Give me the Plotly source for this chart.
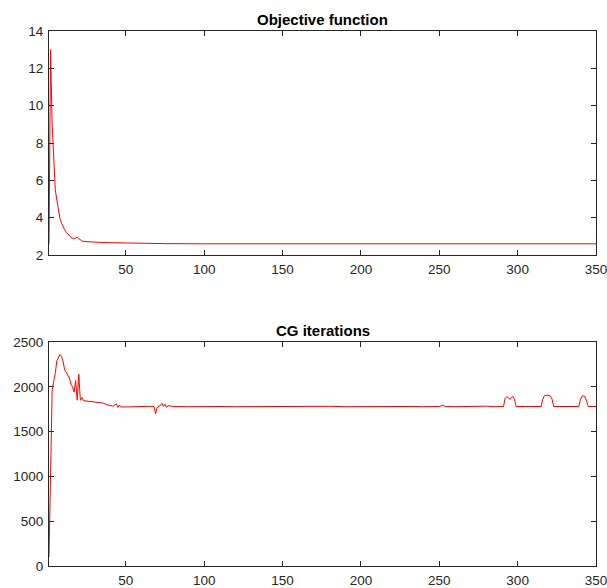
import plotly.graph_objects as go

# ---- Data ----
obj_x = [1, 2, 3, 4, 5, 6, 7, 8, 9, 10, 11, 12, 13, 14, 15, 16, 17, 18, 19, 20,
         21, 22, 24, 27, 32, 40, 45, 50, 60, 75, 100, 150, 200, 250, 300, 350]
obj_y = [2.6, 13.0, 9.0, 6.8, 5.5, 4.95, 4.45, 3.95, 3.7, 3.5, 3.35, 3.22, 3.12, 3.03,
         2.95, 2.89, 2.88, 2.9, 2.95, 2.88, 2.8, 2.75, 2.72, 2.7, 2.68, 2.66, 2.65,
         2.63, 2.62, 2.61, 2.6, 2.6, 2.6, 2.6, 2.6, 2.6]

cg_x = [1, 2, 3, 4, 5, 6, 7, 8, 9, 10, 11, 12, 13, 14, 15, 16, 17, 18, 19, 20,
        21, 22, 23, 25, 30, 35, 40, 42, 44, 45, 46, 47, 50, 55, 60, 65, 68, 69, 70,
        72, 73, 74, 75, 76, 77, 80, 90, 100, 110, 120, 130, 140, 150, 160, 170, 180,
        190, 200, 210, 220, 230, 240, 250, 252, 254, 260, 270, 275, 280, 285, 288,
        291, 292, 293, 294, 295, 296, 297, 298, 299, 305, 315, 316, 317, 318, 320,
        321, 322, 323, 330, 339, 340, 341, 342, 343, 344, 345, 350]
cg_y = [100, 900, 1950, 2060, 2150, 2290, 2330, 2360, 2340, 2280, 2190, 2160, 2130,
        2100, 2030, 2000, 1940, 2070, 1850, 2140, 1850, 1880, 1845, 1840, 1835, 1820,
        1790, 1785, 1810, 1770, 1795, 1775, 1775, 1780, 1778, 1782, 1780, 1700, 1770,
        1790, 1815, 1780, 1805, 1770, 1790, 1780, 1778, 1782, 1780, 1778, 1780, 1776,
        1780, 1778, 1780, 1782, 1778, 1780, 1778, 1776, 1780, 1778, 1780, 1795, 1780,
        1778, 1782, 1776, 1784, 1778, 1780, 1780, 1870, 1890, 1880, 1860, 1880, 1890,
        1860, 1780, 1780, 1780, 1860, 1900, 1905, 1905, 1895, 1860, 1780, 1780, 1780,
        1850, 1895, 1900, 1890, 1840, 1780, 1780]

obj_yticks = [2, 4, 6, 8, 10, 12, 14]
cg_yticks = [0, 500, 1000, 1500, 2000, 2500]
x_ticks = [50, 100, 150, 200, 250, 300, 350]

W, H = 607, 588
L, R = 49, 596
T1, B1 = 31, 255
T2, B2 = 342, 566

AX = "#262626"
FONT = "Liberation Sans"

fig = go.Figure()
fig.add_trace(go.Scatter(x=obj_x, y=obj_y, mode="lines",
                         line=dict(color="#ff0000", width=1), xaxis="x", yaxis="y",
                         showlegend=False, hoverinfo="skip"))
fig.add_trace(go.Scatter(x=cg_x, y=cg_y, mode="lines",
                         line=dict(color="#ff0000", width=1), xaxis="x2", yaxis="y2",
                         showlegend=False, hoverinfo="skip"))

common = dict(showline=True, linecolor=AX, linewidth=1, mirror="ticks",
              ticks="inside", ticklen=5, tickcolor=AX, tickwidth=1,
              showgrid=False, zeroline=False, automargin=False,
              ticklabeloverflow="allow",
              tickfont=dict(family=FONT, size=13.5, color=AX))

xd = [L / W, R / W]
fig.update_layout(
    width=W, height=H, margin=dict(l=0, r=0, t=0, b=0, autoexpand=False),
    paper_bgcolor="white", plot_bgcolor="white",
    xaxis=dict(domain=xd, range=[1, 350], tickvals=x_ticks, anchor="y",
               ticklabelstandoff=2, **common),
    yaxis=dict(domain=[1 - B1 / H, 1 - T1 / H], range=[2, 14], tickvals=obj_yticks,
               anchor="x", ticklabelstandoff=2, **common),
    xaxis2=dict(domain=xd, range=[1, 350], tickvals=x_ticks, anchor="y2",
                ticklabelstandoff=2, **common),
    yaxis2=dict(domain=[1 - B2 / H, 1 - T2 / H], range=[0, 2500], tickvals=cg_yticks,
                anchor="x2", ticklabelstandoff=2, **common),
    annotations=[
        dict(text="<b>Objective function</b>", x=(xd[0] + xd[1]) / 2, y=1 - T1 / H,
             xref="paper", yref="paper", xanchor="center", yanchor="bottom",
             yshift=1, showarrow=False, font=dict(family=FONT, size=15, color="black")),
        dict(text="<b>CG iterations</b>", x=(xd[0] + xd[1]) / 2, y=1 - T2 / H,
             xref="paper", yref="paper", xanchor="center", yanchor="bottom",
             yshift=1, showarrow=False, font=dict(family=FONT, size=15, color="black")),
    ],
)

fig.write_html("out.html")
